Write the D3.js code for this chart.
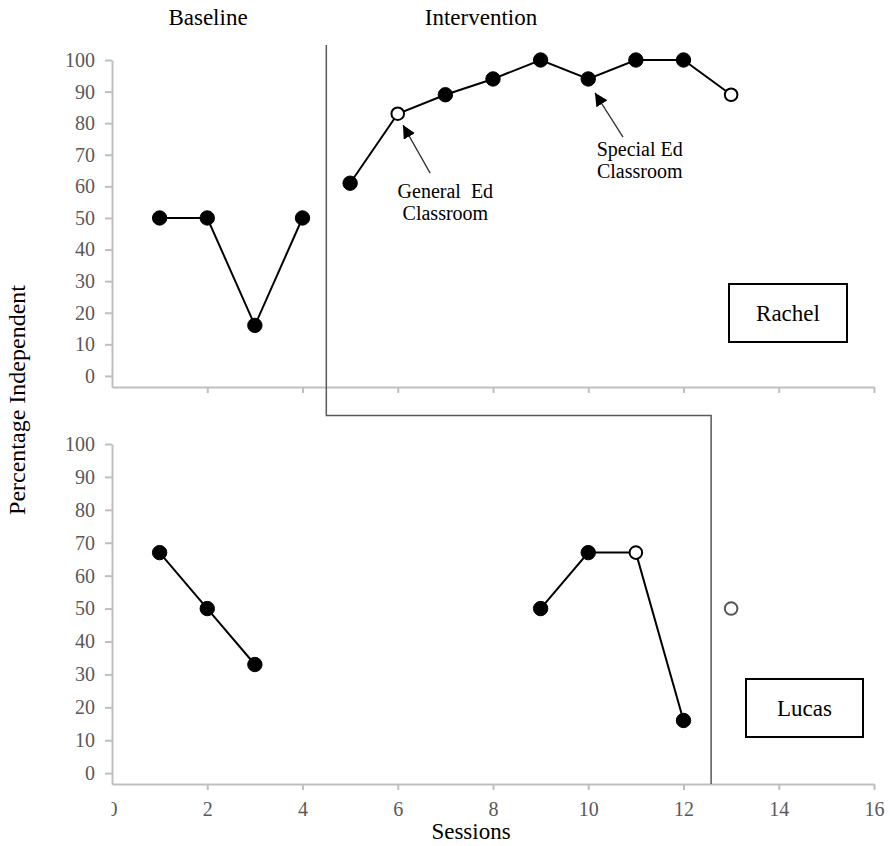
<!DOCTYPE html>
<html>
<head>
<meta charset="utf-8">
<script src="https://cdn.jsdelivr.net/npm/d3@7"></script>
<style>
  html, body { margin: 0; padding: 0; background: #fff; }
  svg { display: block; }
  .axis path, .axis line { stroke: #bfbfbf; stroke-width: 2; }
</style>
</head>
<body>
<div id="chart"></div>
<script>
// sessions and percentages
const rachelBaseSessions = [1, 2, 3, 4];
const rachelBaseValues = [50, 50, 16, 50];
const rachelIntSessions = [5, 6, 7, 8, 9, 10, 11, 12, 13];
const rachelIntValues = [61, 83, 89, 94, 100, 94, 100, 100, 89];
const rachelOpenSessions = [6, 13];

const lucasBaseSessions = [1, 2, 3];
const lucasBaseValues = [67, 50, 33];
const lucasIntSessions = [9, 10, 11, 12];
const lucasIntValues = [50, 67, 67, 16];
const lucasProbeSessions = [13];
const lucasProbeValues = [50];
const lucasOpenSessions = [11, 13];

const xTicks = [0, 2, 4, 6, 8, 10, 12, 14, 16];
const yTicks = [0, 10, 20, 30, 40, 50, 60, 70, 80, 90, 100];
const phaseChanges = [4.5, 12.58];

const FONT = "'Times New Roman', 'Liberation Serif', serif";
const W = 890, H = 846;
const svg = d3.select("#chart").append("svg")
  .attr("width", W).attr("height", H)
  .attr("font-family", FONT);

const x = d3.scaleLinear().domain([0, 16]).range([112, 874]);
const yTop = d3.scaleLinear().domain([-3.5, 100]).range([387, 60]);
const yBot = d3.scaleLinear().domain([-3.3, 100]).range([784, 444]);

const defs = svg.append("defs");
defs.append("marker")
  .attr("id", "arrow")
  .attr("viewBox", "0 0 10 10")
  .attr("refX", 10).attr("refY", 5)
  .attr("markerWidth", 13).attr("markerHeight", 13)
  .attr("markerUnits", "userSpaceOnUse")
  .attr("orient", "auto")
  .append("path").attr("d", "M0,0 L10,5 L0,10 Z").attr("fill", "#000");
// the first x label is half hidden in the original
defs.append("clipPath").attr("id", "cut0")
  .append("rect").attr("x", -1).attr("y", 0).attr("width", 30).attr("height", 40);

function drawAxes(y, showLabels) {
  const gx = svg.append("g").attr("class", "axis")
    .attr("transform", `translate(0,${y(y.domain()[0])})`)
    .call(d3.axisBottom(x).tickValues(xTicks).tickSize(6).tickSizeOuter(0).tickPadding(12)
      .tickFormat(showLabels ? d3.format("d") : () => ""));
  gx.selectAll(".tick").filter(d => d === 0).select("line").remove();
  const gy = svg.append("g").attr("class", "axis")
    .attr("transform", `translate(${x(0)},0)`)
    .call(d3.axisLeft(y).tickValues(yTicks).tickSize(7).tickSizeOuter(0).tickPadding(10));
  [gx, gy].forEach(g => g.attr("font-family", FONT).attr("font-size", 20)
    .selectAll("text").attr("fill", "#595959"));
  return gx;
}

function drawSeries(y, sessions, values, open, connect, openStroke) {
  const pts = sessions.map((s, i) => ({ s, v: values[i], open: open.includes(s) }));
  if (connect) {
    svg.append("path").datum(pts)
      .attr("fill", "none").attr("stroke", "#000").attr("stroke-width", 2)
      .attr("d", d3.line().x(d => x(d.s)).y(d => y(d.v)));
  }
  svg.append("g").selectAll("circle").data(pts).join("circle")
    .attr("cx", d => x(d.s)).attr("cy", d => y(d.v))
    .attr("r", d => d.open ? 6.3 : 7.2)
    .attr("fill", d => d.open ? "#fff" : "#000")
    .attr("stroke", d => d.open ? (openStroke || "#000") : "#000")
    .attr("stroke-width", d => d.open ? 2 : 1);
}

drawAxes(yTop, false);
const gxb = drawAxes(yBot, true);
gxb.selectAll(".tick").filter(d => d === 0).attr("clip-path", "url(#cut0)");

// phase change line
const px1 = x(phaseChanges[0]), px2 = x(phaseChanges[1]);
svg.append("path")
  .attr("d", `M${px1},45 L${px1},415.5 L${px2},415.5 L${px2},${yBot(-3.3)}`)
  .attr("fill", "none").attr("stroke", "#595959").attr("stroke-width", 1.5);

drawSeries(yTop, rachelBaseSessions, rachelBaseValues, rachelOpenSessions, true);
drawSeries(yTop, rachelIntSessions, rachelIntValues, rachelOpenSessions, true);
drawSeries(yBot, lucasBaseSessions, lucasBaseValues, lucasOpenSessions, true);
drawSeries(yBot, lucasIntSessions, lucasIntValues, lucasOpenSessions, true);
drawSeries(yBot, lucasProbeSessions, lucasProbeValues, lucasOpenSessions, false, "#555");

// phase labels
svg.append("text").attr("x", 208).attr("y", 25).attr("text-anchor", "middle")
  .attr("font-size", 23).text("Baseline");
svg.append("text").attr("x", 481).attr("y", 25).attr("text-anchor", "middle")
  .attr("font-size", 23).text("Intervention");

// annotations
const notes = [
  { lines: ["General  Ed", "Classroom"], tx: 7.0, ty: 56.3, from: [6.68, 64.2], to: [6.11, 79.4] },
  { lines: ["Special Ed", "Classroom"], tx: 11.08, ty: 69.6, from: [10.73, 75.6], to: [10.14, 89.6] }
];
notes.forEach(n => {
  svg.append("line")
    .attr("x1", x(n.from[0])).attr("y1", yTop(n.from[1]))
    .attr("x2", x(n.to[0])).attr("y2", yTop(n.to[1]))
    .attr("stroke", "#333").attr("stroke-width", 1.3)
    .attr("marker-end", "url(#arrow)");
  const t = svg.append("text").attr("text-anchor", "middle").attr("font-size", 20)
    .style("white-space", "pre");
  n.lines.forEach((l, i) => {
    t.append("tspan").attr("x", x(n.tx)).attr("y", yTop(n.ty) + i * 22).text(l);
  });
});

// name boxes
const boxes = [
  { name: "Rachel", x: 729, y: 284, w: 118, h: 58 },
  { name: "Lucas", x: 746, y: 679, w: 117, h: 58 }
];
boxes.forEach(b => {
  svg.append("rect").attr("x", b.x).attr("y", b.y).attr("width", b.w).attr("height", b.h)
    .attr("fill", "#fff").attr("stroke", "#000").attr("stroke-width", 2);
  svg.append("text").attr("x", b.x + b.w / 2).attr("y", b.y + b.h / 2 + 8)
    .attr("text-anchor", "middle").attr("font-size", 23).text(b.name);
});

// axis titles
svg.append("text").attr("transform", "translate(25,400) rotate(-90)")
  .attr("text-anchor", "middle").attr("font-size", 24).text("Percentage Independent");
svg.append("text").attr("x", 471).attr("y", 839).attr("text-anchor", "middle")
  .attr("font-size", 23).text("Sessions");
</script>
</body>
</html>
